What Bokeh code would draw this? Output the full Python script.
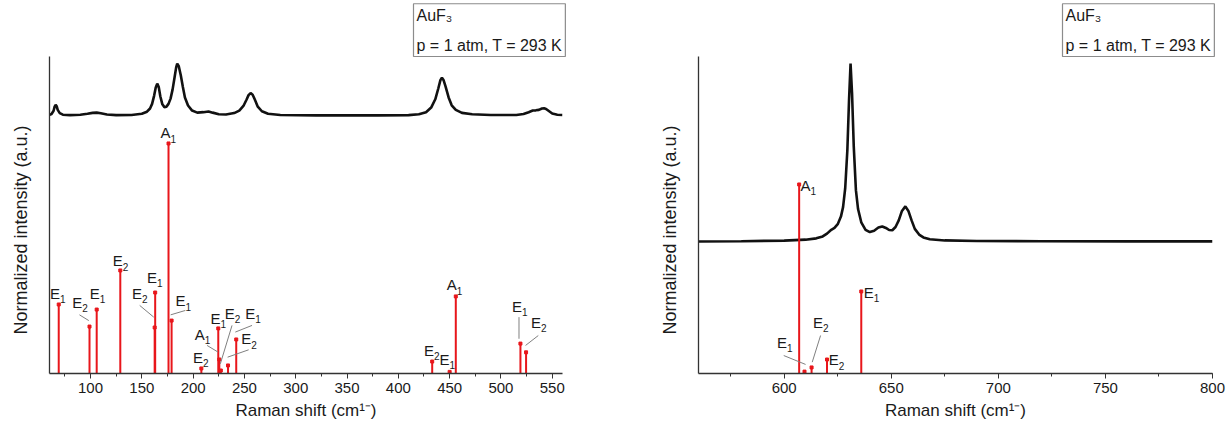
from bokeh.plotting import figure
from bokeh.layouts import row
from bokeh.models import Range1d, SingleIntervalTicker, FixedTicker, Title, ColumnDataSource
from bokeh.core.properties import value
from bokeh.embed import file_html
from bokeh.resources import INLINE

# ---------------- data: left panel (60-560 cm-1) ----------------
left_spec_x = [60, 62, 64, 65, 66, 67, 68, 70, 73, 80, 90, 97, 102, 106, 110, 116, 125, 140, 150, 155,
               158, 160, 162, 163.5, 165, 166.5, 168, 170, 172, 174, 176, 178, 180, 182, 183.5, 184.5,
               186, 188, 190, 192, 195, 199, 204, 210, 215, 219, 225, 232, 240, 245, 249, 252, 254, 256,
               258, 260, 263, 267, 273, 285, 320, 380, 410, 420, 427, 432, 436, 439, 441, 442.5, 444,
               446, 449, 452, 456, 462, 472, 490, 515, 522, 527, 531, 534, 537, 540, 542, 544, 547,
               550, 555, 560]
left_spec_y = [112.4, 112.8, 114.2, 116.0, 116.8, 116.2, 114.6, 113.2, 112.5, 112.3, 112.5, 112.9, 113.3,
               113.4, 113.1, 112.6, 112.3, 112.4, 112.9, 113.8, 115.2, 117.2, 120.8, 124.2, 126.0, 124.5,
               120.5, 117.0, 115.8, 116.0, 117.2, 119.5, 123.5, 129.0, 133.2, 134.7, 133.6, 129.5, 124.5,
               120.0, 116.5, 114.3, 113.4, 113.6, 113.9, 113.4, 112.7, 112.6, 113.2, 114.3, 116.3, 119.0,
               121.0, 121.9, 121.2, 119.2, 116.0, 114.0, 112.9, 112.4, 112.2, 112.2, 112.3, 112.7, 113.6,
               115.6, 119.2, 124.0, 127.5, 128.6, 127.6, 124.8, 120.0, 116.6, 114.6, 113.3, 112.7, 112.4,
               112.4, 112.8, 113.6, 114.3, 114.4, 114.6, 115.2, 115.3, 115.0, 114.0, 113.0, 112.5, 112.4]

left_modes_x = [69, 99, 106, 129, 162.5, 163, 176, 179, 208, 224.5, 225.5, 227, 234, 242, 433, 450, 456, 519, 524.5]
left_modes_y = [30.0, 20.4, 27.8, 44.8, 20.0, 35.2, 100.0, 23.0, 2.2, 19.6, 6.1, 1.3, 3.5, 14.8, 5.2, 0.7, 33.5, 13.0, 9.2]
left_modes_sym = ["E1", "E2", "E1", "E2", "E2", "E1", "A1", "E1", "E2", "E1", "A1", "E2", "E2", "E1", "E2", "E1", "A1", "E1", "E2"]

# label anchor positions (letter left / vertical centre), same order as modes
left_label_x = [60.5, 82.1, 99.2, 121.6, 140.5, 155.1, 168.1, 182.7, 199.9, 216.8, 201.5, 230.7, 247.0, 250.8, 425.1, 440.0, 447.2, 510.8, 529.3]
left_label_y = [34.8, 31.0, 34.8, 49.1, 34.8, 41.9, 104.7, 31.7, 7.1, 24.0, 17.0, 26.1, 15.2, 26.1, 10.0, 6.1, 38.6, 29.3, 22.3]

# leader lines
left_lead_x0 = [89.2, 147.9, 192.4, 213.6, 237.9, 257.4, 254.1, 517.6, 536.4]
left_lead_y0 = [25.5, 29.6, 27.4, 12.2, 20.9, 20.9, 10.3, 24.5, 16.5]
left_lead_x1 = [98.3, 161.6, 178.1, 224.3, 226.5, 241.1, 233.6, 517.6, 524.0]
left_lead_y1 = [23.0, 24.5, 25.5, 9.3, 4.2, 18.0, 7.1, 15.1, 12.2]

# ---------------- data: right panel (560-800 cm-1) ----------------
right_spec_x = [560, 580, 600, 610, 615, 618, 620, 622, 623.5, 625, 626.5, 627.5, 628.5, 629.5, 630.3, 631,
                631.7, 632.5, 633.5, 634.5, 636, 638, 640, 642, 644, 645.8, 647.5, 649, 650.5, 652, 653.5,
                655, 656.6, 658, 659.5, 661, 663, 665, 668, 675, 690, 720, 760, 800]
right_spec_y = [69.8, 70.0, 70.3, 70.8, 71.5, 72.5, 74.0, 76.0, 77.0, 79.0, 83.0, 88.0, 98.0, 118.0, 145.0,
                164.0, 148.0, 120.0, 97.0, 87.0, 80.0, 76.0, 74.8, 75.5, 77.2, 77.8, 77.0, 75.9, 75.8, 77.5,
                81.0, 86.0, 88.4, 86.0, 81.0, 76.5, 73.5, 72.0, 71.0, 70.4, 70.1, 70.0, 69.9, 69.9]

right_modes_x = [607, 609.5, 612.8, 620, 636]
right_modes_y = [100.0, 1.0, 3.2, 7.4, 43.4]
right_modes_sym = ["A1", "E1", "E2", "E2", "E1"]
right_label_x = [607.6, 596.7, 613.5, 620.8, 637.2]
right_label_y = [99.5, 16.4, 27.0, 7.4, 42.9]
right_lead_x0 = [617.0, 599.8]
right_lead_y0 = [20.1, 9.5]
right_lead_x1 = [613.1, 610.0]
right_lead_y1 = [6.0, 4.8]

legend_text = "AuF\u2083\np = 1 atm, T = 293 K"
y_label = "Normalized intensity (a.u.)"
x_label = "Raman shift (cm\u00b9\u207b)"

FONT = "Liberation Sans"
RED = "#e8161b"
TXT = "#1a1a1a"


def make_panel(width, bl, br, xr, yr, interval):
    p = figure(width=width, height=428, output_backend="svg", toolbar_location=None,
               x_range=Range1d(*xr), y_range=Range1d(*yr),
               min_border_left=bl, min_border_right=br, min_border_top=56, min_border_bottom=55)
    p.outline_line_color = None
    p.xgrid.visible = False
    p.ygrid.visible = False
    p.background_fill_color = "white"
    p.border_fill_color = "white"
    xa = p.xaxis[0]
    xa.ticker = SingleIntervalTicker(interval=interval, num_minor_ticks=2)
    xa.axis_label = x_label
    xa.axis_label_text_font = FONT
    xa.axis_label_text_font_style = "normal"
    xa.axis_label_text_font_size = "17px"
    xa.axis_label_text_color = TXT
    xa.axis_label_standoff = 5
    xa.major_label_text_font = FONT
    xa.major_label_text_font_size = "15px"
    xa.major_label_text_color = TXT
    xa.major_label_standoff = 4
    xa.axis_line_color = "#333333"
    xa.axis_line_width = 1.3
    xa.major_tick_line_color = "#333333"
    xa.minor_tick_line_color = "#333333"
    xa.major_tick_in = 0
    xa.major_tick_out = 5
    xa.minor_tick_in = 0
    xa.minor_tick_out = 3
    ya = p.yaxis[0]
    ya.ticker = FixedTicker(ticks=[])
    # trailing no-break spaces push the visible label slightly toward the bottom, as in the original
    ya.axis_label = y_label + "\u00a0" * 6
    ya.axis_label_text_font = FONT
    ya.axis_label_text_font_style = "normal"
    ya.axis_label_text_font_size = "18px"
    ya.axis_label_text_color = TXT
    ya.axis_label_standoff = 19
    ya.axis_line_color = "#333333"
    ya.axis_line_width = 1.3
    ya.major_tick_line_color = None
    ya.minor_tick_line_color = None
    ya.major_label_text_font_size = "0px"
    return p


def draw(p, sx, sy, mx, my, msym, lx, ly, l0x, l0y, l1x, l1y):
    p.line(sx, sy, line_color="#111111", line_width=2.6)
    src = ColumnDataSource(dict(x=mx, y=my, base=[0] * len(mx)))
    p.segment(x0="x", y0="base", x1="x", y1="y", source=src, line_color=RED, line_width=2)
    p.scatter(x="x", y="y", source=src, marker="square", size=3, fill_color=RED, line_color=RED)
    p.segment(x0=l0x, y0=l0y, x1=l1x, y1=l1y, line_color="#808080", line_width=1)
    letters = [s[0] for s in msym]
    digits = [s[1] for s in msym]
    p.text(x=lx, y=ly, text=letters, text_font=value(FONT), text_font_size="15px",
           text_baseline="middle", text_align="left", text_color=TXT)
    p.text(x=lx, y=ly, text=digits, text_font=value(FONT), text_font_size="10px",
           text_baseline="middle", text_align="left", text_color=TXT, x_offset=10, y_offset=6)
    title = Title(text=legend_text, align="left", offset=364, standoff=0, vertical_align="bottom",
                  text_font=FONT, text_font_size="16px", text_font_style="normal", text_color=TXT,
                  text_line_height=1.75, padding=3,
                  border_line_color="#8c8c8c", border_line_width=1.2, background_fill_color="white")
    p.add_layout(title, "above")


p1 = make_panel(610, 49, 48, (60, 560), (0, 137.8), 50)
draw(p1, left_spec_x, left_spec_y, left_modes_x, left_modes_y, left_modes_sym,
     left_label_x, left_label_y, left_lead_x0, left_lead_y0, left_lead_x1, left_lead_y1)

p2 = make_panel(617, 88, 15, (560, 800), (0, 167.7), 50)
draw(p2, right_spec_x, right_spec_y, right_modes_x, right_modes_y, right_modes_sym,
     right_label_x, right_label_y, right_lead_x0, right_lead_y0, right_lead_x1, right_lead_y1)

layout = row(p1, p2)
open("out.html", "w").write(file_html(layout, INLINE))
